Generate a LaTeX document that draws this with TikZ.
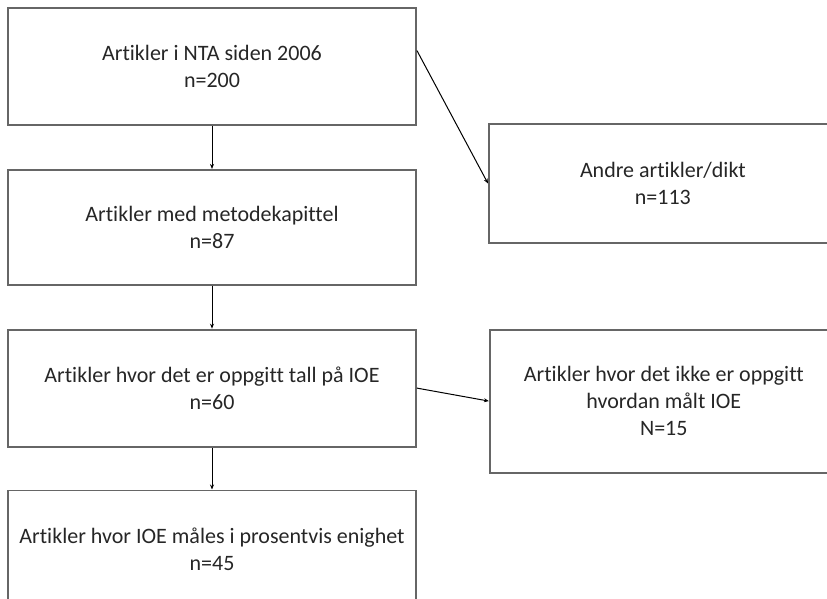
\documentclass[tikz,border=0pt]{standalone}
\usepackage{fontspec}
\setmainfont[Ligatures={NoCommon}]{Carlito}
\usepackage{tikz}
\usetikzlibrary{arrows.meta, positioning}

\begin{document}
\begin{tikzpicture}[
  x=1pt, y=1pt,
  node distance=43pt and 72pt,
  box/.style={draw=black!60, line width=1.8pt, minimum width=408pt, minimum height=117pt, inner sep=0pt, align=center, text=black!85},
  side/.style={box, minimum width=348pt},
  arrow/.style={-{Stealth[length=5pt,width=4pt]}, line width=1pt},
  every node/.style={font=\fontsize{22}{27}\selectfont}
]
\useasboundingbox (0,0) rectangle (827,-599);
\node[box] (all) at (212,-66.5) {Artikler i NTA siden 2006\\n=200};
\node[box, below=of all, minimum height=115pt] (method) {Artikler med metodekapittel\\n=87};
\node[box, below=of method] (number) {Artikler hvor det er oppgitt tall på IOE\\n=60};
\node[box, below=42pt of number, minimum height=118pt] (percent) {Artikler hvor IOE måles i prosentvis enighet\\n=45};

\node[side, minimum height=119pt, anchor=west] (other) at (488,-183.5) {Andre artikler/dikt\\n=113};
\node[side, minimum height=143pt, right=72pt of number, yshift=-13pt] (unknown) {Artikler hvor det ikke er oppgitt\\hvordan målt IOE\\N=15};

\draw[arrow] (all) -- (method);
\draw[arrow] (method) -- (number);
\draw[arrow] (number) -- (percent);
\draw[arrow] ([yshift=16pt]all.east) -- (other.west);
\draw[arrow] (number.east) -- (unknown.west);
\end{tikzpicture}
\end{document}
